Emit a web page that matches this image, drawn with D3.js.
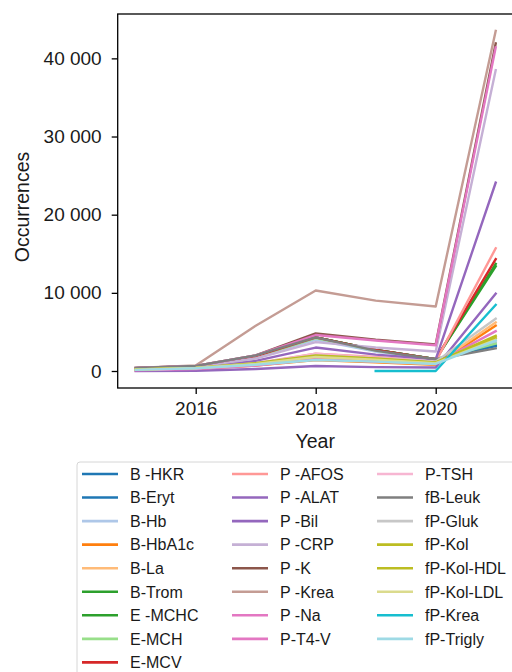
<!DOCTYPE html>
<html>
<head>
<meta charset="utf-8">
<script src="https://cdn.jsdelivr.net/npm/d3@7"></script>
<style>
  html, body { margin: 0; padding: 0; background: #fff; }
  svg { display: block; font-family: "Liberation Sans", Arial, sans-serif; }
</style>
</head>
<body>
<svg id="chart" width="512" height="672"></svg>
<script>
// Years on the x axis
const years = [2015, 2016, 2017, 2018, 2019, 2020, 2021];

// Test names (legend order)
const tests = [
  "B -HKR", "B-Eryt", "B-Hb", "B-HbA1c", "B-La", "B-Trom", "E -MCHC", "E-MCH", "E-MCV",
  "P -AFOS", "P -ALAT", "P -Bil", "P -CRP", "P -K", "P -Krea", "P -Na", "P-T4-V",
  "P-TSH", "fB-Leuk", "fP-Gluk", "fP-Kol", "fP-Kol-HDL", "fP-Kol-LDL", "fP-Krea", "fP-Trigly"
];

// Line colours, one per test
const colors = [
  "#1f77b4", "#1f77b4", "#aec7e8", "#ff7f0e", "#ffbb78", "#2ca02c", "#2ca02c", "#98df8a", "#d62728",
  "#ff9896", "#9467bd", "#9467bd", "#c5b0d5", "#8c564b", "#c49c94", "#e377c2", "#e377c2",
  "#f7b6d2", "#7f7f7f", "#c7c7c7", "#bcbd22", "#bcbd22", "#dbdb8d", "#17becf", "#9edae5"
];

// Occurrences per year (null = no data that year)
const occurrences = [
  [350, 600, 1900, 4300, 2700, 1500, 3300],     // B -HKR
  [350, 600, 1900, 4200, 2600, 1500, 3200],     // B-Eryt
  [300, 550, 1800, 4000, 2500, 1450, 3700],     // B-Hb
  [100, 250, 700, 1400, 1100, 800, 5800],       // B-HbA1c
  [150, 300, 800, 1600, 1200, 900, 6200],       // B-La
  [350, 600, 1900, 4300, 2700, 1500, 13400],    // B-Trom
  [350, 600, 1900, 4300, 2700, 1500, 13700],    // E -MCHC
  [300, 550, 1800, 4200, 2600, 1500, 3500],     // E-MCH
  [350, 600, 1900, 4300, 2700, 1500, 14300],    // E-MCV
  [200, 400, 1000, 2200, 1800, 1200, 15700],    // P -AFOS
  [250, 450, 1300, 3000, 2100, 1500, 24100],    // P -ALAT
  [0, 30, 250, 640, 500, 450, 9900],            // P -Bil
  [300, 550, 1600, 3700, 3000, 2500, 38500],    // P -CRP
  [380, 650, 2000, 4800, 4000, 3400, 41900],    // P -K
  [400, 700, 5800, 10300, 9000, 8250, 43500],   // P -Krea
  [380, 650, 2000, 4600, 3900, 3300, 41400],    // P -Na
  [100, 250, 700, 1500, 1200, 1000, 5100],      // P-T4-V
  [150, 350, 900, 2200, 1700, 1200, 4300],      // P-TSH
  [380, 650, 2000, 4300, 2600, 1500, 2900],     // fB-Leuk
  [200, 400, 1000, 2000, 1600, 1200, 6700],     // fP-Gluk
  [200, 400, 1000, 2000, 1600, 1100, 4500],     // fP-Kol
  [200, 400, 950, 1900, 1500, 1050, 4200],      // fP-Kol-HDL
  [180, 380, 900, 1800, 1450, 1000, 4000],      // fP-Kol-LDL
  [null, null, null, null, 0, 0, 8450],         // fP-Krea
  [150, 350, 800, 1400, 1200, 900, 3900]        // fP-Trigly
];

const xTicks = [2016, 2018, 2020];
const yTicks = [0, 10000, 20000, 30000, 40000];

const svg = d3.select("#chart");
const plot = { left: 117.7, right: 513.7, top: 14, bottom: 388 };

const x = d3.scaleLinear().domain([2014.7, 2021.3]).range([plot.left, plot.right]);
const y = d3.scaleLinear().domain([-2175, 45675]).range([plot.bottom, plot.top]);

const locale = d3.formatLocale({ decimal: ".", thousands: "\u2009", grouping: [3], currency: ["", ""] });
const fmt = v => locale.format(",")(v).replace(/\u2009/g, " ");

svg.append("clipPath").attr("id", "clip")
  .append("rect")
  .attr("x", plot.left).attr("y", plot.top)
  .attr("width", plot.right - plot.left).attr("height", plot.bottom - plot.top);

// Series lines
const line = d3.line()
  .defined(d => d.v !== null)
  .x(d => x(d.year))
  .y(d => y(d.v));

const g = svg.append("g").attr("clip-path", "url(#clip)");
tests.forEach((name, i) => {
  const pts = years.map((yr, j) => ({ year: yr, v: occurrences[i][j] }));
  g.append("path")
    .attr("d", line(pts))
    .attr("fill", "none")
    .attr("stroke", colors[i])
    .attr("stroke-width", 2.4)
    .attr("stroke-linejoin", "round")
    .attr("stroke-linecap", "square");
});

// Axes
const xAxis = d3.axisBottom(x).tickValues(xTicks).tickFormat(d3.format("d")).tickSize(6).tickPadding(8);
const yAxis = d3.axisLeft(y).tickValues(yTicks).tickFormat(fmt).tickSize(6).tickPadding(10);

const gx = svg.append("g").attr("transform", `translate(0,${plot.bottom})`).call(xAxis);
const gy = svg.append("g").attr("transform", `translate(${plot.left},0)`).call(yAxis);
[gx, gy].forEach(a => {
  a.select(".domain").remove();
  a.selectAll(".tick line").attr("stroke", "#000").attr("stroke-width", 1.3);
  a.selectAll(".tick text").attr("fill", "#1a1a1a").style("font-size", "19px")
    .style("font-family", "'Liberation Sans', Arial, sans-serif");
});

// Frame
svg.append("rect")
  .attr("x", plot.left).attr("y", plot.top)
  .attr("width", plot.right - plot.left).attr("height", plot.bottom - plot.top)
  .attr("fill", "none").attr("stroke", "#000").attr("stroke-width", 1.3);

// Axis titles
svg.append("text")
  .attr("x", (plot.left + plot.right) / 2 - 0.5).attr("y", 448)
  .attr("text-anchor", "middle").attr("fill", "#1a1a1a")
  .style("font-size", "19.5px").text("Year");
svg.append("text")
  .attr("transform", "translate(29,207) rotate(-90)")
  .attr("text-anchor", "middle").attr("fill", "#1a1a1a")
  .style("font-size", "19.5px").text("Occurrences");

// Legend
const legend = svg.append("g");
legend.append("rect")
  .attr("x", 77).attr("y", 462).attr("width", 445).attr("height", 230)
  .attr("rx", 3).attr("fill", "#fff").attr("stroke", "#d6d6d6").attr("stroke-width", 1);

const colX = [82, 232, 377];
const rowsPerCol = [9, 8, 8];
let k = 0;
rowsPerCol.forEach((n, c) => {
  for (let r = 0; r < n; r++, k++) {
    const cy = 474 + r * 23.55;
    legend.append("line")
      .attr("x1", colX[c]).attr("x2", colX[c] + 36)
      .attr("y1", cy).attr("y2", cy)
      .attr("stroke", colors[k]).attr("stroke-width", 2.6);
    legend.append("text")
      .attr("x", colX[c] + 48).attr("y", cy)
      .attr("dy", "0.36em").attr("fill", "#1a1a1a")
      .style("font-size", "16px").text(tests[k]);
  }
});
</script>
</body>
</html>
